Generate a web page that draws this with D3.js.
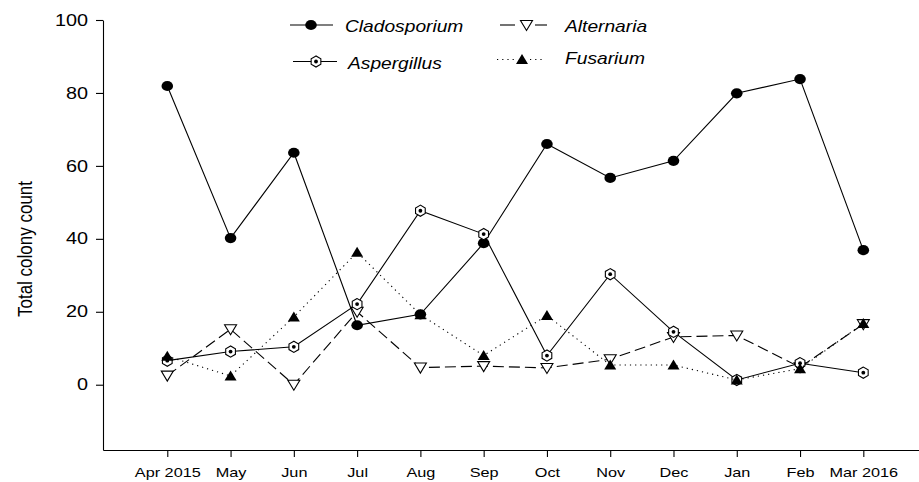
<!DOCTYPE html>
<html>
<head>
<meta charset="utf-8">
<script src="https://cdn.jsdelivr.net/npm/d3@7"></script>
<style>
  body { margin: 0; background: #fff; }
  svg { display: block; font-family: Arial, "Liberation Sans", sans-serif; }
</style>
</head>
<body>
<svg id="chart" width="919" height="482"></svg>
<script>
// month labels on the x axis
const months = ["Apr 2015", "May", "Jun", "Jul", "Aug", "Sep", "Oct", "Nov", "Dec", "Jan", "Feb", "Mar 2016"];
const yTicks = [0, 20, 40, 60, 80, 100];

// colony counts
const cladosporium = [81.9, 40.2, 63.6, 16.3, 19.3, 38.8, 66.0, 56.7, 61.4, 79.9, 83.8, 36.9];
const aspergillus = [6.6, 9.1, 10.4, 22.1, 47.7, 41.3, 8.0, 30.3, 14.5, 1.3, 5.9, 3.3];
const alternaria = [2.5, 15.2, 0, 20.0, 4.7, 5.1, 4.6, 7.0, 13.1, 13.5, 4.8, 16.6];
const fusarium = [7.8, 2.4, 18.6, 36.3, 19.2, 8.0, 19.0, 5.4, 5.4, 1.3, 4.4, 16.8];

const series = [
  { name: "Cladosporium", values: cladosporium, marker: "circle", dash: null },
  { name: "Alternaria", values: alternaria, marker: "down", dash: "11,5" },
  { name: "Aspergillus", values: aspergillus, marker: "hex", dash: null },
  { name: "Fusarium", values: fusarium, marker: "up", dash: "1.2,4" }
];

const svg = d3.select("#chart");

const x = d3.scaleLinear().domain([-1.016, 11.88]).range([103, 919]);
const y = d3.scaleLinear().domain([-17.9, 100]).range([450, 20]);

// axes
const xAxis = svg.append("g")
  .attr("transform", "translate(0,450)")
  .call(d3.axisBottom(x).tickValues(d3.range(months.length))
    .tickFormat((i) => months[i]).tickSize(7).tickSizeOuter(0));
xAxis.selectAll("text")
  .attr("y", 0).attr("dy", 0)
  .attr("transform", "translate(0,27) scale(1.25,1)")
  .style("font-size", "13px");

const yAxis = svg.append("g")
  .attr("transform", "translate(103,0)")
  .call(d3.axisLeft(y).tickValues(yTicks).tickSize(7).tickSizeOuter(0));
yAxis.selectAll("text")
  .attr("x", 0)
  .attr("transform", "translate(-15,0) scale(1.24,1)")
  .style("font-size", "16px");

svg.selectAll(".domain, .tick line").attr("stroke", "#000").attr("stroke-width", 1.1);
svg.selectAll(".tick text").attr("fill", "#000");

svg.append("text")
  .attr("transform", "translate(32,249) rotate(-90) scale(1,1.22)")
  .attr("text-anchor", "middle")
  .style("font-size", "17px")
  .text("Total colony count");

// marker drawing
function drawMarker(g, type, cx, cy) {
  if (type === "circle") {
    g.append("ellipse").attr("cx", cx).attr("cy", cy).attr("rx", 5.8).attr("ry", 5.1)
      .attr("fill", "#000");
  } else if (type === "hex") {
    const r = 5.6;
    const pts = d3.range(6).map((k) => {
      const a = Math.PI / 2 + k * Math.PI / 3;
      return [cx + r * Math.cos(a), cy - r * Math.sin(a)];
    });
    g.append("polygon").attr("points", pts.join(" "))
      .attr("fill", "#fff").attr("stroke", "#000").attr("stroke-width", 1.1);
    g.append("circle").attr("cx", cx).attr("cy", cy).attr("r", 1.9).attr("fill", "#000");
  } else if (type === "down") {
    const w = 6, h = 10;
    g.append("polygon")
      .attr("points", [[cx - w, cy - h / 2 + 0.5], [cx + w, cy - h / 2 + 0.5], [cx, cy + h / 2 + 0.5]].join(" "))
      .attr("fill", "#fff").attr("stroke", "#000").attr("stroke-width", 1.1);
  } else if (type === "up") {
    const w = 6, h = 10;
    g.append("polygon")
      .attr("points", [[cx - w, cy + h / 2 - 0.5], [cx + w, cy + h / 2 - 0.5], [cx, cy - h / 2 - 0.5]].join(" "))
      .attr("fill", "#000");
  }
}

const line = d3.line().x((d, i) => x(i)).y((d) => y(d));

series.forEach((s) => {
  const g = svg.append("g");
  g.append("path").datum(s.values)
    .attr("d", line)
    .attr("fill", "none").attr("stroke", "#000").attr("stroke-width", 1.1)
    .attr("stroke-dasharray", s.dash);
  s.values.forEach((v, i) => drawMarker(g, s.marker, x(i), y(v)));
});

// legend: line segments either side of the marker
const legendItems = [
  { s: series[0], segs: [[290, 333]], mx: 311, my: 25, tx: 345, ty: 31.7 },
  { s: series[2], segs: [[293, 337]], mx: 316, my: 61.5, tx: 348, ty: 69 },
  { s: series[1], segs: [[500, 515], [535, 547]], mx: 526.5, my: 25, tx: 565, ty: 31.7 },
  { s: series[3], segs: [[497, 514], [530, 545]], mx: 522, my: 59.5, tx: 565, ty: 64 }
];
legendItems.forEach((d) => {
  const g = svg.append("g");
  d.segs.forEach(([a, b]) => {
    g.append("line").attr("x1", a).attr("x2", b).attr("y1", d.my).attr("y2", d.my)
      .attr("stroke", "#000").attr("stroke-width", 1.1)
      .attr("stroke-dasharray", d.s.marker === "up" ? "1.2,4" : null);
  });
  drawMarker(g, d.s.marker, d.mx, d.my);
  g.append("text")
    .attr("transform", `translate(${d.tx},${d.ty}) scale(1.2,1)`)
    .style("font-size", "16px").style("font-style", "italic")
    .text(d.s.name);
});
</script>
</body>
</html>
